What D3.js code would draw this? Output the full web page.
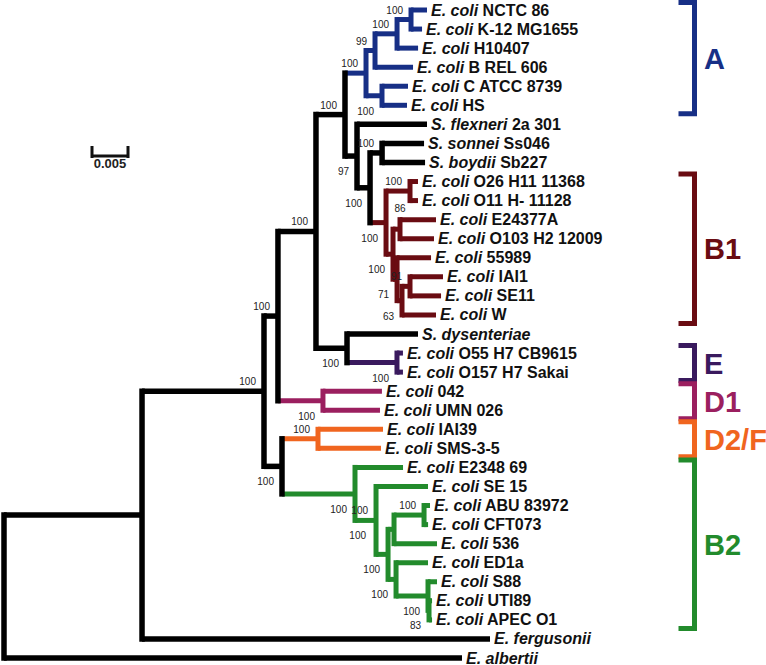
<!DOCTYPE html>
<html><head><meta charset="utf-8">
<script src="https://cdn.jsdelivr.net/npm/d3@7"></script>
<style>body{margin:0;background:#fff}svg{display:block}</style>
</head><body><svg id="c" width="766" height="665"></svg>
<script>
// ---- DATA ----
const leafIds = ["NCTC86","K12","H10407","BREL606","CATCC8739","HS","Sflex","Sson","Sboy","O26","O11","E24377A","O103","55989","IAI1","SE11","W","Sdys","O55","O157","042","UMN026","IAI39","SMS35","E2348","SE15","ABU","CFT073","536","ED1a","S88","UTI89","APEC","Ferg","Alb"];
const leafTaxon = ["E. coli","E. coli","E. coli","E. coli","E. coli","E. coli","S. flexneri","S. sonnei","S. boydii","E. coli","E. coli","E. coli","E. coli","E. coli","E. coli","E. coli","E. coli","S. dysenteriae","E. coli","E. coli","E. coli","E. coli","E. coli","E. coli","E. coli","E. coli","E. coli","E. coli","E. coli","E. coli","E. coli","E. coli","E. coli","E. fergusonii","E. albertii"];
const leafStrain = ["NCTC 86","K-12 MG1655","H10407","B REL 606","C ATCC 8739","HS","2a 301","Ss046","Sb227","O26 H11 11368","O11 H- 11128","E24377A","O103 H2 12009","55989","IAI1","SE11","W","","O55 H7 CB9615","O157 H7 Sakai","042","UMN 026","IAI39","SMS-3-5","E2348 69","SE 15","ABU 83972","CFT073","536","ED1a","S88","UTI89","APEC O1","",""];

// [node, parent, branch length (substitutions/site)]
const branches = [
  ["root", null, 0],
  ["N1","root",0.01917], ["Alb","root",0.06361],
  ["N2","N1",0.01694], ["Ferg","N1",0.04833],
  ["N3","N2",0.00194], ["N4","N2",0.00250],
  ["N5","N3",0.00528], ["D1","N3",0.00625],
  ["042","D1",0.00819], ["UMN026","D1",0.00792],
  ["D2","N4",0.00500], ["IAI39","D2",0.00903], ["SMS35","D2",0.00875],
  ["B2","N4",0.01014], ["E2348","B2",0.00667], ["B2a","B2",0.00292],
  ["SE15","B2a",0.00722], ["B2b","B2a",0.00167],
  ["B2c","B2b",0.00083], ["B2d","B2c",0.00417], ["ABU","B2d",0.00083], ["CFT073","B2d",0.00056], ["536","B2c",0.00597],
  ["B2e","B2b",0.00111], ["ED1a","B2e",0.00444], ["B2f","B2e",0.00444], ["S88","B2f",0.00125],
  ["B2g","B2f",0.00014], ["UTI89","B2g",0.00042], ["APEC","B2g",0.00042],
  ["P","N5",0.00403], ["Ndys","N5",0.00431],
  ["Sdys","Ndys",0.00986], ["EE","Ndys",0.00694], ["O55","EE",0.00083], ["O157","EE",0.00083],
  ["A","P",0.00292], ["Q","P",0.00167],
  ["A1","A",0.00125], ["A4","A",0.00222],
  ["A2","A1",0.00306], ["BREL606","A1",0.00528],
  ["A3","A2",0.00194], ["H10407","A2",0.00292],
  ["NCTC86","A3",0.00222], ["K12","A3",0.00153],
  ["CATCC8739","A4",0.00361], ["HS","A4",0.00347],
  ["Sflex","Q",0.00972], ["R","Q",0.00181],
  ["Sh","R",0.00167], ["Sson","Sh",0.00583], ["Sboy","Sh",0.00597],
  ["B1","R",0.00222], ["B1a","B1",0.00333], ["O26","B1a",0.00111], ["O11","B1a",0.00111],
  ["B1b","B1",0.00097],
  ["B1c","B1b",0.00097], ["E24377A","B1c",0.00500], ["O103","B1c",0.00472],
  ["B1d","B1b",0.00056], ["55989","B1d",0.00472],
  ["B1e","B1d",0.00069], ["W","B1e",0.00472],
  ["B1f","B1e",0.00111], ["IAI1","B1f",0.00458], ["SE11","B1f",0.00431]
];

// bootstrap support: [node, value]
const bootstrap = [
  ["A3",100],["A2",100],["A1",99],["A",100],["A4",100],["P",100],["Sh",100],["B1a",100],
  ["N5",100],["N3",100],["N2",100],["N4",100],["Ndys",100],["EE",100],["D1",100],["D2",100],
  ["Q",97],["R",100],["B1",100],["B1b",100],["B1c",86],["B1d",71],["B1e",63],["B1f",91],
  ["B2",100],["B2a",100],["B2c",100],["B2d",100],["B2b",100],["B2e",100],["B2f",100],["B2g",83]
];

const cladeNames = ["A","B1","E","D1","D2/F","B2"];
const cladeRootNode = ["A","B1","EE","D1","D2","B2"];
const cladeFirstLeaf = ["NCTC86","O26","O55","042","IAI39","E2348"];
const cladeLastLeaf = ["HS","W","O157","UMN026","SMS35","APEC"];
const cladeColors = ["#172f86","#6a0c12","#3a1a5e","#9b1f5f","#f0651f","#228b2c"];

const scaleBarValue = 0.005;

// ---- LAYOUT (label placement around nodes) ----
const placeBelow = ["A4","Q","R","B1","B1b","B1d","B1e","Ndys","EE","D1","N4","B2","B2b","B2e","B2f","B2g"];
const placeTop = ["B1c"];
const placeLeft = ["B2c"];
function labelPos(n) {
  const nx = x(n.depth);
  if (placeTop.includes(n.id)) return [nx, n.y0 - 8, "middle"];
  if (placeLeft.includes(n.id)) return [nx - 28, n.y + 10, "end"];
  if (placeBelow.includes(n.id)) return [nx - 8, n.y + 19, "end"];
  return [nx - 8, n.y - 6, "end"];
}

const svg = d3.select("#c");
const x = d3.scaleLinear().domain([0, 0.1]).range([4, 724]);
const y = d3.scalePoint().domain(leafIds).range([10, 658]);

const nodes = new Map();
branches.forEach(([id, p, len]) => nodes.set(id, {id, parent: p, len, children: []}));
nodes.forEach(n => { if (n.parent) nodes.get(n.parent).children.push(n); });
const root = nodes.get("root");
(function setDepth(n, d) { n.depth = d + n.len; n.children.forEach(c => setDepth(c, n.depth)); })(root, 0);
(function setY(n) {
  if (!n.children.length) { n.y = y(n.id); return; }
  n.children.forEach(setY);
  const ys = n.children.map(c => c.y);
  n.y0 = d3.min(ys); n.y1 = d3.max(ys);
  n.y = (n.y0 + n.y1) / 2;
})(root);
(function setColor(n, col) {
  const ci = cladeRootNode.indexOf(n.id);
  n.color = ci >= 0 ? cladeColors[ci] : col;
  n.children.forEach(c => setColor(c, n.color));
})(root, "#000");

const all = Array.from(nodes.values());
const sw = n => n.color === "#000" ? 5.5 : 5;

// horizontal branches
svg.append("g").selectAll("line").data(all.filter(n => n.parent)).join("line")
  .attr("x1", n => x(nodes.get(n.parent).depth)).attr("x2", n => x(n.depth))
  .attr("y1", n => n.y).attr("y2", n => n.y)
  .attr("stroke", n => n.color).attr("stroke-width", sw);
// vertical connectors
svg.append("g").selectAll("line").data(all.filter(n => n.children.length)).join("line")
  .attr("x1", n => x(n.depth)).attr("x2", n => x(n.depth))
  .attr("y1", n => n.y0).attr("y2", n => n.y1)
  .attr("stroke", n => n.color).attr("stroke-width", sw).attr("stroke-linecap", "square");

// leaf labels
const leafG = svg.append("g").attr("font-family", "'Liberation Sans', Arial, sans-serif")
  .attr("font-weight", "bold").attr("font-size", 16).attr("fill", "#111");
leafIds.forEach((id, i) => {
  const n = nodes.get(id);
  const t = leafG.append("text").attr("x", x(n.depth) + 4).attr("y", n.y + 5.5);
  t.append("tspan").attr("font-style", "italic").text(leafTaxon[i]);
  if (leafStrain[i]) t.append("tspan").text(" " + leafStrain[i]);
});

// bootstrap labels
svg.append("g").attr("font-family", "'Liberation Sans', Arial, sans-serif").attr("font-size", 10).attr("fill", "#222")
  .selectAll("text").data(bootstrap).join("text")
  .each(function(d) {
    const p = labelPos(nodes.get(d[0]));
    d3.select(this).attr("x", p[0]).attr("y", p[1]).attr("text-anchor", p[2]);
  })
  .text(d => d[1]);

// clade brackets
const bx = 694.5, bw = 16;
const bg = svg.append("g");
cladeNames.forEach((name, i) => {
  const top = y(cladeFirstLeaf[i]) - 7.5, bot = y(cladeLastLeaf[i]) + 8.5;
  bg.append("path").attr("d", `M${bx - bw},${top}H${bx}V${bot}H${bx - bw}`)
    .attr("fill", "none").attr("stroke", cladeColors[i]).attr("stroke-width", 5).attr("stroke-linejoin", "miter");
  bg.append("text").attr("x", 704).attr("y", (top + bot) / 2 + 10.5)
    .attr("font-family", "'Liberation Sans', Arial, sans-serif").attr("font-weight", "bold").attr("font-size", 29)
    .attr("fill", cladeColors[i]).text(name);
});

// scale bar
const sx0 = 92, sx1 = sx0 + (x(scaleBarValue) - x(0)), sy = 156;
svg.append("path").attr("d", `M${sx0},${sy - 10}V${sy + 2}M${sx0},${sy}H${sx1}M${sx1},${sy - 10}V${sy + 2}`)
  .attr("fill", "none").attr("stroke", "#111").attr("stroke-width", 3);
svg.append("text").attr("x", (sx0 + sx1) / 2).attr("y", 168).attr("text-anchor", "middle")
  .attr("font-family", "'Liberation Sans', Arial, sans-serif").attr("font-weight", "bold").attr("font-size", 13)
  .attr("fill", "#222").text(scaleBarValue);
</script></body></html>
